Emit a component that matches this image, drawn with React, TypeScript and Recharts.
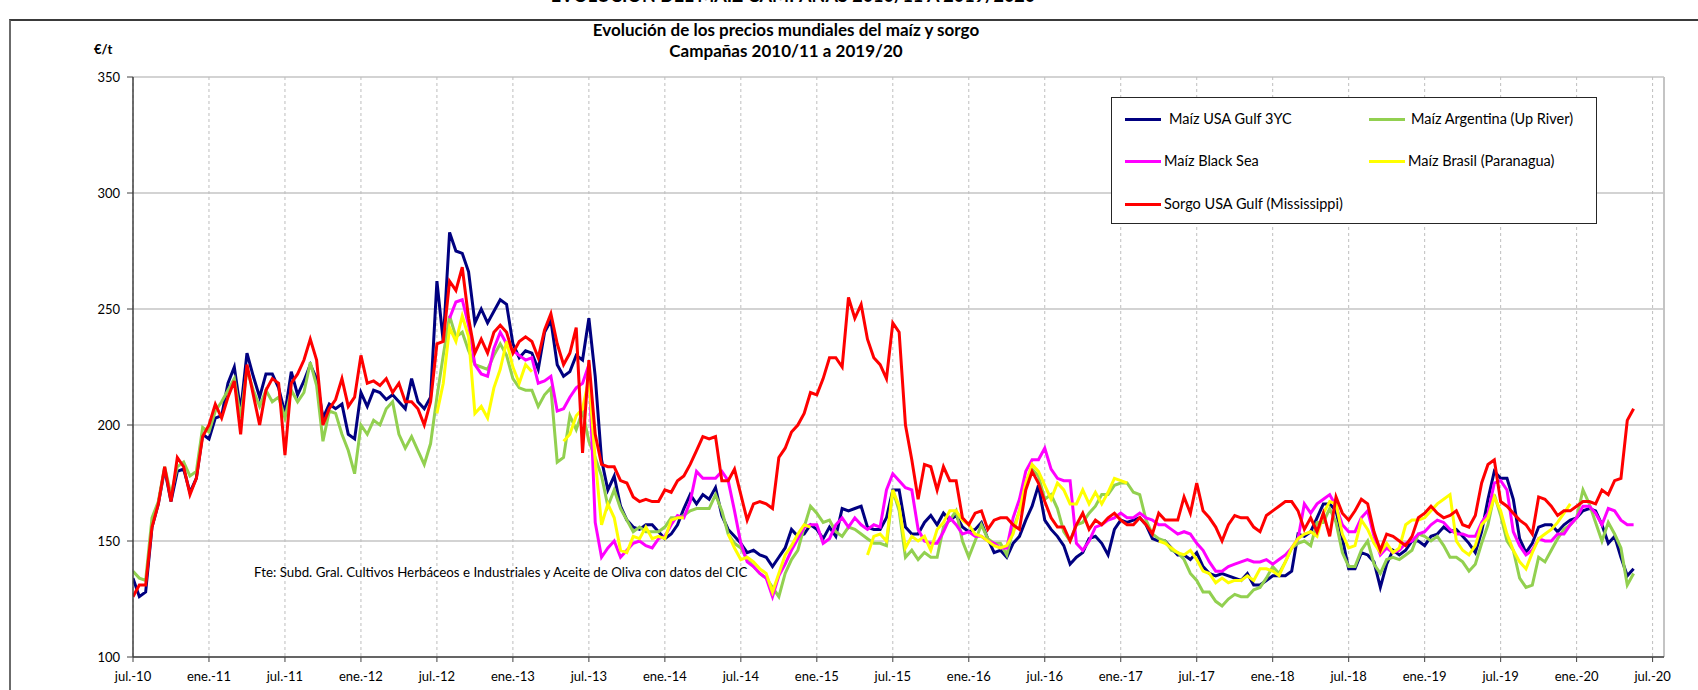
import React from 'react';
import { LineChart, Line, XAxis, YAxis, CartesianGrid, ReferenceLine } from 'recharts';

const FONT = 'Lato, "Liberation Sans", Arial, sans-serif';

// eje x: meses desde jul.-10 (0), un dato cada medio mes
const STEP = 0.5;
const N_POINTS = 238;
const MONTHS = Array.from({ length: N_POINTS }, (_, i) => i * STEP);

const X_TICKS = [0, 6, 12, 18, 24, 30, 36, 42, 48, 54, 60, 66, 72, 78, 84, 90, 96, 102, 108, 114, 120];
const X_LABELS = [
  'jul.-10', 'ene.-11', 'jul.-11', 'ene.-12', 'jul.-12', 'ene.-13', 'jul.-13', 'ene.-14', 'jul.-14', 'ene.-15',
  'jul.-15', 'ene.-16', 'jul.-16', 'ene.-17', 'jul.-17', 'ene.-18', 'jul.-18', 'ene.-19', 'jul.-19', 'ene.-20', 'jul.-20',
];
const Y_TICKS = [100, 150, 200, 250, 300, 350];

// €/t
const USA_GULF = [
  134, 126, 128, 156, 166, 181, 167, 180, 181, 171, 177, 196, 194, 203, 204, 218, 225, 206, 231, 221, 212, 222, 222, 216,
  205, 223, 213, 219, 226, 220, 203, 209, 207, 209, 196, 194, 214, 208, 215, 214, 211, 213, 210, 207, 220, 210, 207, 212,
  262, 236, 283, 275, 274, 266, 244, 250, 244, 249, 254, 252, 235, 229, 232, 231, 224, 240, 245, 226, 221, 223, 230, 228,
  246, 221, 185, 172, 178, 165, 159, 156, 155, 157, 157, 154, 151, 153, 157, 164, 170, 166, 170, 168, 173, 161, 155, 152,
  149, 145, 146, 144, 143, 139, 143, 147, 155, 152, 153, 157, 155, 151, 156, 152, 164, 163, 164, 165, 156, 155, 155, 160,
  172, 172, 156, 153, 153, 158, 161, 157, 162, 159, 161, 156, 154, 155, 158, 151, 145, 146, 143, 149, 152, 159, 165, 174,
  159, 155, 152, 148, 140, 143, 145, 151, 152, 149, 144, 155, 159, 158, 159, 160, 157, 151, 150, 150, 147, 144, 144, 142,
  145, 139, 136, 135, 136, 135, 134, 133, 136, 131, 131, 133, 135, 135, 135, 137, 153, 152, 154, 160, 166, 166, 163, 151,
  138, 138, 145, 144, 141, 130, 140, 146, 144, 146, 150, 150, 148, 152, 153, 156, 154, 155, 152, 149, 145, 154, 168, 180,
  177, 177, 168, 151, 145, 149, 156, 157, 157, 154, 157, 159, 160, 163, 164, 163, 157, 149, 152, 143, 135, 138,
];

const ARGENTINA = [
  137, 134, 133, 160, 167, 182, 170, 182, 184, 178, 180, 199, 197, 206, 210, 215, 220, 203, 224, 215, 208, 215, 210, 212,
  203, 215, 210, 214, 227, 217, 193, 206, 205, 196, 189, 179, 200, 196, 202, 200, 207, 210, 196, 190, 195, 189, 183, 192,
  212, 230, 247, 238, 240, 232, 226, 225, 224, 230, 235, 230, 220, 216, 215, 215, 208, 213, 216, 184, 186, 204, 198, 206,
  193, 186, 178, 165, 172, 164, 159, 154, 156, 154, 154, 154, 156, 160, 160, 161, 163, 164, 164, 164, 170, 163, 153, 149,
  147, 142, 139, 136, 134, 130, 126, 136, 142, 146, 156, 165, 162, 158, 159, 154, 152, 156, 155, 153, 151, 149, 149, 148,
  172, 163, 143, 146, 142, 145, 143, 143, 156, 159, 163, 150, 143, 150, 157, 151, 149, 149, 144, 155, 163, 175, 181, 178,
  168, 170, 164, 154, 150, 157, 158, 162, 165, 170, 170, 174, 175, 175, 171, 170, 159, 153, 151, 150, 146, 145, 142, 136,
  133, 128, 128, 124, 122, 125, 127, 126, 126, 129, 130, 134, 139, 136, 141, 147, 149, 150, 148, 158, 158, 164, 158, 145,
  139, 139, 146, 150, 140, 136, 142, 143, 142, 144, 146, 153, 152, 150, 152, 148, 143, 143, 141, 137, 140, 149, 157, 170,
  161, 150, 146, 134, 130, 131, 143, 141, 146, 151, 155, 157, 160, 172, 166, 158, 150, 158, 153, 147, 131, 136,
];

// Black Sea desde ago.-12 (mes 25)
const BLACK_SEA_START = 25;
const BLACK_SEA = [
  246, 253, 254, 243, 226, 222, 221, 233, 240, 235, 232, 230, 228, 229, 218, 219, 221, 206, 207, 212, 216, 218, 226, 158,
  143, 147, 150, 143, 146, 149, 150, 148, 147, 151, 152, 157, 161, 160, 167, 180, 177, 177, 177, 180, 176, 163, 149, 141,
  139, 136, 134, 126, 135, 140, 146, 151, 156, 157, 157, 149, 151, 157, 160, 156, 160, 157, 155, 157, 156, 172, 179, 176,
  173, 172, 155, 150, 149, 149, 154, 160, 157, 153, 154, 152, 152, 150, 149, 147, 147, 160, 168, 180, 185, 185, 190, 181,
  177, 176, 176, 149, 146, 150, 156, 157, 159, 160, 162, 160, 160, 162, 160, 159, 157, 157, 155, 153, 154, 153, 149, 146,
  141, 137, 137, 139, 140, 141, 142, 141, 141, 142, 140, 142, 144, 147, 151, 166, 162, 166, 168, 170, 165, 157, 154, 154,
  160, 163, 152, 144, 147, 145, 146, 149, 150, 153, 154, 157, 159, 158, 155, 153, 153, 152, 152, 158, 162, 175, 176, 172,
  154, 148, 144, 146, 151, 150, 150, 153, 153, 157, 160, 165, 165, 162, 157, 164, 163, 159, 157, 157,
];

// Brasil desde jul.-12 (mes 24), con huecos
const BRASIL_START = 24;
const BRASIL = [
  205, 218, 242, 236, 247, 238, 205, 208, 203, 216, 224, 236, 225, 218, 226, 223, null, null, null, null, 193, 196, 204, 207,
  220, 185, 157, 166, 160, 146, 145, 152, 151, 156, 151, 152, 151, 159, 160, 160, null, null, null, null, null, null, 153, 147,
  142, 143, 141, 138, 136, 128, 136, 144, 148, 153, 157, 156, null, null, null, null, null, null, null, null, 144, 152, 153, 150,
  172, 165, 147, 152, 150, 152, 146, 155, 158, 163, 163, 159, 157, 153, 152, 150, 148, 147, 148, 153, 163, 175, 183, 180,
  174, 168, 175, 172, 166, 166, 172, 166, 171, 166, 171, 177, 176, 175, null, null, null, null, 150, 149, 147, 145, 144, 146,
  142, 137, 136, 132, 134, 132, 133, 133, 135, 133, 138, 138, 137, 135, 141, 147, 151, 153, 154, 152, 162, 167, 166, 153,
  147, 148, 159, 155, 149, 145, 149, 145, 147, 157, 159, 159, 160, 163, 166, 168, 170, 150, 146, 144, 148, 157, 160, 169,
  163, 153, 146, 141, 138, 145, 151, 153, 155, 158, 162, 166,
];

const SORGO = [
  126, 131, 131, 156, 166, 182, 167, 186, 182, 170, 177, 195, 200, 209, 203, 212, 219, 196, 226, 213, 200, 215, 220, 218,
  187, 218, 222, 228, 237, 228, 200, 207, 211, 220, 208, 212, 230, 218, 219, 217, 220, 214, 218, 210, 210, 207, 200, 210,
  235, 236, 262, 258, 268, 246, 231, 237, 231, 240, 243, 240, 231, 236, 238, 236, 229, 241, 248, 235, 226, 231, 242, 188,
  228, 196, 183, 182, 182, 176, 175, 169, 167, 168, 167, 167, 172, 171, 176, 178, 183, 189, 195, 194, 195, 176, 176, 181,
  170, 159, 166, 167, 166, 164, 186, 190, 197, 200, 205, 214, 213, 220, 229, 229, 225, 255, 246, 252, 237, 229, 226, 220,
  244, 240, 200, 185, 168, 183, 182, 172, 182, 176, 176, 160, 157, 162, 163, 155, 159, 160, 160, 157, 155, 172, 180, 175,
  167, 160, 156, 156, 150, 157, 162, 155, 159, 157, 160, 162, 159, 157, 157, 160, 157, 153, 162, 159, 159, 159, 169, 162,
  175, 163, 160, 156, 150, 157, 161, 160, 160, 156, 154, 161, 163, 165, 167, 167, 163, 155, 160, 154, 162, 152, 169, 162,
  159, 163, 168, 166, 154, 146, 153, 152, 150, 148, 152, 160, 162, 165, 162, 160, 161, 163, 157, 156, 161, 175, 183, 185,
  167, 165, 162, 159, 157, 153, 169, 168, 165, 161, 163, 163, 165, 167, 167, 166, 172, 170, 176, 177, 202, 207,
];

const SERIES = [
  { key: 'usa', name: 'Maíz USA Gulf 3YC', color: '#000080' },
  { key: 'arg', name: 'Maíz Argentina (Up River)', color: '#92D050' },
  { key: 'bs', name: 'Maíz Black Sea', color: '#FF00FF' },
  { key: 'br', name: 'Maíz Brasil (Paranagua)', color: '#FFFF00' },
  { key: 'sorgo', name: 'Sorgo USA Gulf (Mississippi)', color: '#FF0000' },
];

const pick = (arr: (number | null)[], start: number, i: number) => {
  const j = i - start / STEP;
  if (j < 0 || j >= arr.length) return null;
  return arr[j];
};

const data = MONTHS.map((m, i) => ({
  m,
  usa: USA_GULF[i],
  arg: ARGENTINA[i],
  bs: pick(BLACK_SEA, BLACK_SEA_START, i),
  br: pick(BRASIL, BRASIL_START, i),
  sorgo: SORGO[i],
}));

const X_MAX = 120.9;

function LegendBox() {
  const slots = [
    { s: SERIES[0], x: 13, y: 21, tx: 57 },
    { s: SERIES[1], x: 257, y: 21, tx: 299 },
    { s: SERIES[2], x: 13, y: 63, tx: 52 },
    { s: SERIES[3], x: 257, y: 63, tx: 296 },
    { s: SERIES[4], x: 13, y: 106, tx: 52 },
  ];
  return (
    <div
      style={{
        position: 'absolute',
        left: 1111,
        top: 97,
        width: 484,
        height: 125,
        border: '1.5px solid #262626',
        background: '#fff',
        fontFamily: FONT,
        fontSize: 14.5,
        color: '#000',
      }}
    >
      {slots.map(({ s, x, y, tx }) => (
        <React.Fragment key={s.key}>
          <div
            style={{
              position: 'absolute',
              left: x,
              top: y - 1.5,
              width: 36,
              height: 3,
              background: s.color,
            }}
          />
          <div style={{ position: 'absolute', left: tx, top: y - 9, lineHeight: '18px', whiteSpace: 'nowrap' }}>
            {s.name}
          </div>
        </React.Fragment>
      ))}
    </div>
  );
}

export default function App() {
  return (
    <div
      style={{
        position: 'absolute',
        left: 0,
        top: 0,
        width: 1698,
        height: 690,
        background: '#fff',
        overflow: 'hidden',
        fontFamily: FONT,
      }}
    >
      <div
        style={{
          position: 'absolute',
          left: 0,
          width: 1586,
          top: -14,
          textAlign: 'center',
          fontSize: 18,
          lineHeight: '18px',
          fontWeight: 700,
        }}
      >
        EVOLUCIÓN DEL MAÍZ CAMPAÑAS 2010/11 A 2019/2020
      </div>
      <div
        style={{
          position: 'absolute',
          left: 9,
          top: 19,
          width: 1720,
          height: 720,
          borderLeft: '2px solid #6b6b6b',
          borderTop: '2px solid #3a3a3a',
        }}
      />
      <div
        style={{
          position: 'absolute',
          left: 0,
          width: 1572,
          top: 19,
          textAlign: 'center',
          fontSize: 17,
          lineHeight: '21px',
          fontWeight: 700,
        }}
      >
        <div>Evolución de los precios mundiales del maíz y sorgo</div>
        <div>Campañas 2010/11 a 2019/20</div>
      </div>
      <div style={{ position: 'absolute', left: 94, top: 41, fontSize: 13, fontWeight: 700 }}>€/t</div>

      <LineChart
        width={1698}
        height={690}
        data={data}
        margin={{ top: 77, right: 34, bottom: 3, left: 73 }}
        style={{ position: 'absolute', left: 0, top: 0, fontFamily: FONT }}
      >
        <CartesianGrid vertical={false} stroke="#C4C4C4" strokeWidth={1.3} />
        <CartesianGrid horizontal={false} stroke="#BEBEBE" strokeDasharray="3 3" />
        <XAxis
          type="number"
          dataKey="m"
          domain={[0, X_MAX]}
          ticks={X_TICKS}
          interval={0}
          allowDataOverflow
          tickFormatter={(v: number) => X_LABELS[X_TICKS.indexOf(v)] ?? ''}
          height={30}
          tickSize={5}
          tickMargin={10}
          tick={{ fontSize: 13, fill: '#000' }}
          axisLine={{ stroke: '#404040', strokeWidth: 1.5 }}
          tickLine={{ stroke: '#404040' }}
        />
        <YAxis
          type="number"
          domain={[100, 350]}
          ticks={Y_TICKS}
          interval={0}
          allowDataOverflow
          width={60}
          tickSize={6}
          tickMargin={7}
          tick={{ fontSize: 13, fill: '#000' }}
          axisLine={{ stroke: '#404040', strokeWidth: 1.5 }}
          tickLine={{ stroke: '#404040' }}
        />
        <ReferenceLine x={X_MAX} stroke="#C4C4C4" strokeWidth={2} />
        {SERIES.map((s) => (
          <Line
            key={s.key}
            type="linear"
            dataKey={s.key}
            name={s.name}
            stroke={s.color}
            strokeWidth={3}
            dot={false}
            activeDot={false}
            connectNulls={false}
            isAnimationActive={false}
          />
        ))}
      </LineChart>

      <LegendBox />

      <div
        style={{
          position: 'absolute',
          left: 254,
          top: 564,
          fontSize: 13.3,
          lineHeight: '16px',
          color: '#000',
          whiteSpace: 'nowrap',
        }}
      >
        Fte: Subd. Gral. Cultivos Herbáceos e Industriales y Aceite de Oliva con datos del CIC
      </div>
    </div>
  );
}
